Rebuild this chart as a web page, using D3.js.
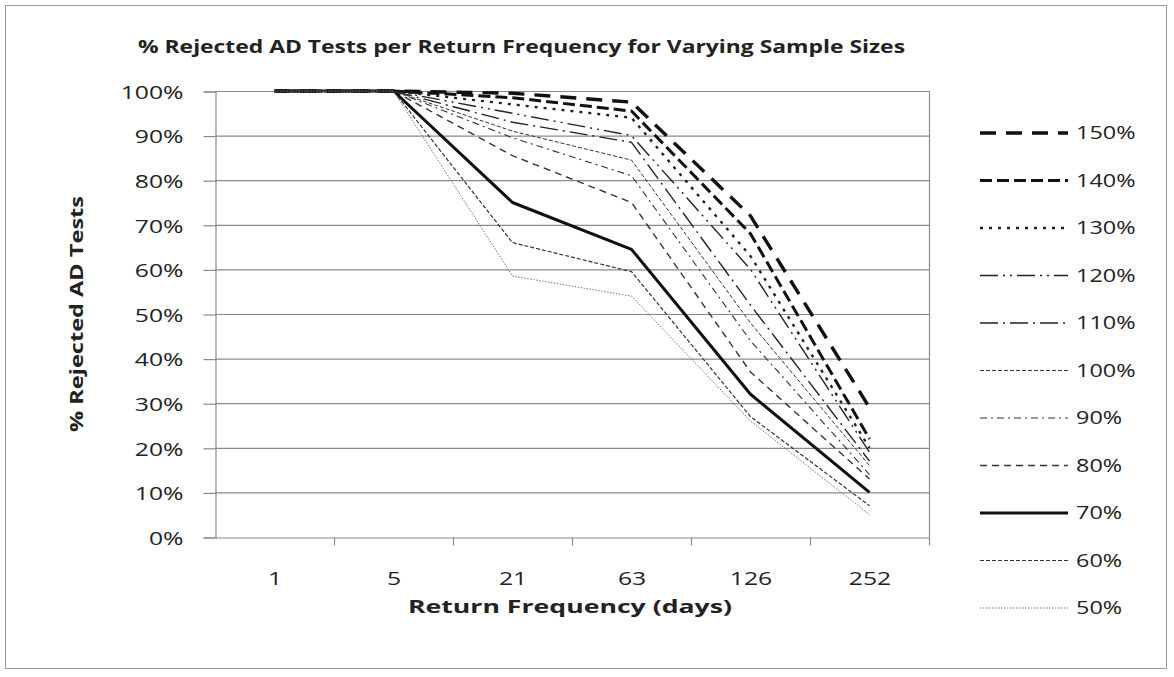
<!DOCTYPE html>
<html>
<head>
<meta charset="utf-8">
<script src="https://cdn.jsdelivr.net/npm/d3@7.9.0/dist/d3.min.js"></script>
<style>
  body { margin: 0; background: #fff; }
  text { font-family: "Open Sans", sans-serif; fill: #222; }
</style>
</head>
<body>
<svg width="1174" height="677"></svg>
<script>
// return frequencies (days)
const categories = ["1", "5", "21", "63", "126", "252"];
const yTicks = [0, 10, 20, 30, 40, 50, 60, 70, 80, 90, 100];

// % rejected AD tests per sample size
const sampleSizes = ["150%", "140%", "130%", "120%", "110%", "100%", "90%", "80%", "70%", "60%", "50%"];
const s150 = [100, 100, 99.5, 97.5, 72, 29];
const s140 = [100, 100, 98.5, 95.5, 68, 22];
const s130 = [100, 100, 97, 94, 63, 20];
const s120 = [100, 100, 95, 90, 60, 19];
const s110 = [100, 100, 93, 88.5, 52, 17];
const s100 = [100, 100, 91, 84.5, 48, 16];
const s90 = [100, 100, 89.5, 81, 44, 14];
const s80 = [100, 100, 85.5, 75, 37, 13];
const s70 = [100, 100, 75, 64.5, 32, 10];
const s60 = [100, 100, 66, 59.5, 27, 7];
const s50 = [100, 100, 58.5, 54, 26, 5];
const seriesValues = [s150, s140, s130, s120, s110, s100, s90, s80, s70, s60, s50];

// line styles per series
const styles = [
  { w: 3.4, dash: "16,10", c: "#111" },
  { w: 3, dash: "12,5", c: "#111" },
  { w: 2.4, dash: "3,6", c: "#222" },
  { w: 1.4, dash: "18,5,2,5,2,5", c: "#222" },
  { w: 1.4, dash: "18,5,2,5", c: "#222" },
  { w: 1, dash: "4,2", c: "#333" },
  { w: 1.1, dash: "7,4,2,4", c: "#333" },
  { w: 1.4, dash: "7,5", c: "#333" },
  { w: 3, dash: null, c: "#111" },
  { w: 1.2, dash: "4,2", c: "#333" },
  { w: 1, dash: "1.5,1.5", c: "#777" }
];

const svg = d3.select("svg");
const margin = { left: 215, top: 91, right: 929, bottom: 537 };

// outer frame
svg.append("rect")
  .attr("x", 5.5).attr("y", 5.5)
  .attr("width", 1161).attr("height", 663)
  .attr("fill", "none").attr("stroke", "#999");

const x = d3.scaleBand().domain(categories).range([margin.left, margin.right]);
const y = d3.scaleLinear().domain([0, 100]).range([margin.bottom, margin.top]);

// gridlines
svg.append("g")
  .selectAll("line")
  .data(yTicks.slice(1))
  .join("line")
  .attr("x1", margin.left).attr("x2", margin.right)
  .attr("y1", d => y(d) + 0.5).attr("y2", d => y(d) + 0.5)
  .attr("stroke", "#8a8a8a").attr("stroke-width", 1.2);

// plot right border
svg.append("line")
  .attr("x1", margin.right + 0.5).attr("x2", margin.right + 0.5)
  .attr("y1", margin.top).attr("y2", margin.bottom)
  .attr("stroke", "#8a8a8a").attr("stroke-width", 1.2);

// y axis
const yAxis = svg.append("g")
  .attr("transform", `translate(${margin.left + 0.5},0.5)`)
  .call(d3.axisLeft(y).tickValues(yTicks).tickFormat(d => d + "%").tickSize(12).tickPadding(20));
yAxis.selectAll("path, line").attr("stroke", "#8a8a8a").attr("stroke-width", 1.2);
yAxis.selectAll("text").attr("font-size", 19).attr("class", "stretch").attr("dy", "0.36em");

// x axis
const xAxis = svg.append("g")
  .attr("transform", `translate(0.5,${margin.bottom + 0.5})`)
  .call(d3.axisBottom(x).tickSize(0).tickPadding(32));
xAxis.select("path").attr("stroke", "#8a8a8a").attr("stroke-width", 1.2);
xAxis.selectAll("text").attr("font-size", 19).attr("class", "stretch").attr("dy", "0.36em");
xAxis.selectAll("text").attr("y", 41);
// tick marks at category boundaries
xAxis.selectAll(".sep")
  .data(categories)
  .join("line")
  .attr("class", "sep")
  .attr("x1", d => x(d) + x.bandwidth()).attr("x2", d => x(d) + x.bandwidth())
  .attr("y1", 0).attr("y2", 8)
  .attr("stroke", "#8a8a8a").attr("stroke-width", 1.2);

// series lines
const line = d3.line()
  .x((d, i) => x(categories[i]) + x.bandwidth() / 2)
  .y(d => y(d));

svg.append("g")
  .selectAll("path")
  .data(seriesValues)
  .join("path")
  .attr("d", d => line(d))
  .attr("fill", "none")
  .attr("stroke", (d, i) => styles[i].c)
  .attr("stroke-width", (d, i) => styles[i].w)
  .attr("stroke-dasharray", (d, i) => styles[i].dash)
  .attr("stroke-linejoin", "round");

// legend
const legend = svg.append("g");
sampleSizes.forEach((name, i) => {
  const ly = 133 + i * 47.5;
  legend.append("line")
    .attr("x1", 980).attr("x2", 1068)
    .attr("y1", ly).attr("y2", ly)
    .attr("stroke", styles[i].c)
    .attr("stroke-width", styles[i].w)
    .attr("stroke-dasharray", styles[i].dash);
  legend.append("text")
    .attr("class", "stretch")
    .attr("x", 1076).attr("y", ly)
    .attr("dy", "0.36em")
    .attr("font-size", 18)
    .text(name);
});

// titles
svg.append("text")
  .attr("x", 138).attr("y", 53)
  .attr("font-size", 17).attr("font-weight", "bold")
  .attr("textLength", 767).attr("lengthAdjust", "spacingAndGlyphs")
  .text("% Rejected AD Tests per Return Frequency for Varying Sample Sizes");

svg.append("text")
  .attr("x", 408).attr("y", 613)
  .attr("font-size", 17).attr("font-weight", "bold")
  .attr("textLength", 324).attr("lengthAdjust", "spacingAndGlyphs")
  .text("Return Frequency (days)");

svg.append("text")
  .attr("transform", "translate(83,432) rotate(-90)")
  .attr("font-size", 17).attr("font-weight", "bold")
  .attr("textLength", 236).attr("lengthAdjust", "spacingAndGlyphs")
  .text("% Rejected AD Tests");

// widen regular labels (reference glyphs are horizontally stretched)
svg.selectAll("text.stretch").each(function () {
  const len = this.getComputedTextLength();
  d3.select(this).attr("textLength", len * 1.3).attr("lengthAdjust", "spacingAndGlyphs");
});
</script>
</body>
</html>
